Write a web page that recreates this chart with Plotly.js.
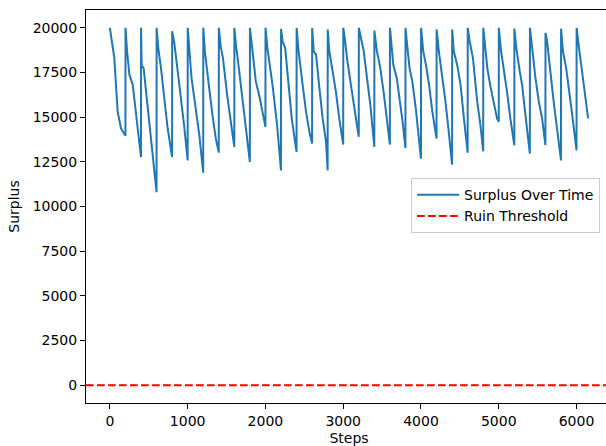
<!DOCTYPE html>
<html>
<head>
<meta charset="utf-8">
<script src="https://cdn.plot.ly/plotly-3.0.1.min.js"></script>
<style>
html,body{margin:0;padding:0;overflow:hidden;background:#fff;}
#chart{width:620px;height:446px;}
</style>
</head>
<body>
<div id="chart"></div>
<script>
// Surplus over time (sawtooth: resets every 200 steps)
const steps = [
  0,57,100,143,200,
  201,221,251,294,336,400,
  401,409,434,485,528,570,600,
  601,622,657,700,743,800,
  801,829,871,913,954,1000,
  1001,1050,1100,1150,1200,
  1201,1221,1255,1277,1319,1362,1400,
  1401,1425,1454,1508,1550,1600,
  1601,1622,1658,1702,1747,1800,
  1801,1834,1877,1919,1962,2000,
  2001,2025,2067,2096,2150,2200,
  2201,2221,2254,2296,2338,2400,
  2401,2422,2448,2478,2522,2565,2600,
  2601,2621,2651,2694,2736,2779,2800,
  2801,2821,2864,2906,2949,3000,
  3001,3021,3054,3096,3138,3200,
  3201,3230,3264,3306,3349,3400,
  3401,3434,3477,3519,3562,3600,
  3601,3622,3644,3689,3733,3764,3800,
  3801,3822,3853,3889,3933,4000,
  4001,4029,4063,4104,4146,4200,
  4201,4230,4272,4315,4357,4400,
  4401,4422,4465,4509,4552,4600,
  4601,4626,4668,4723,4766,4800,
  4801,4822,4853,4889,4933,4978,5000,
  5001,5030,5064,5106,5149,5200,
  5201,5226,5270,5300,5343,5400,
  5401,5430,5472,5515,5557,5600,
  5601,5621,5664,5706,5749,5800,
  5801,5825,5867,5908,5950,6000,
  6001,6021,6043,6064,6106,6149
];
const surplus = [
  20000,18310,15307,14367,13955,
  20000,18690,17370,16810,15117,12770,
  20000,17900,17750,15680,13990,12300,10800,
  20000,18870,17750,15870,14367,12770,
  19810,19150,17560,16240,14550,12580,
  20000,17180,15680,13990,11890,
  20000,18690,17180,16620,15117,13800,13015,
  20000,18960,18310,16240,14930,13330,
  20000,19000,17750,16060,14550,12490,
  20000,18690,16990,16240,15307,14460,
  20000,18870,17560,16620,14550,12020,
  19945,19250,18870,16810,14930,13050,
  20000,18870,17750,16810,15307,14180,13520,
  20000,18690,18500,16620,14930,13620,12020,
  19910,18690,17560,16430,14930,13465,
  20000,19400,18120,16810,15680,13900,
  20000,19400,18690,17180,15680,13330,
  19850,18690,17750,16430,14930,13465,
  20000,19060,17930,17180,15870,14740,13275,
  20000,19060,17750,16990,15495,12680,
  20000,18690,17940,16810,15307,13800,
  19910,18690,17370,15870,14180,12340,
  19910,18690,17940,16810,14930,13015,
  20000,19250,18310,15870,14500,13090,
  20000,19060,17750,16810,15870,14930,14740,
  20000,18690,17750,16430,14930,13430,
  19960,18870,17560,16810,15117,12960,
  20000,18690,17180,15870,14930,13430,
  19720,19250,17370,15870,14367,12580,
  19945,18690,17750,16430,14930,13145,
  20000,19250,18500,17560,16240,14930
];
const ruinLevel = 0;
const xRange = [-307, 6456];
const yRange = [-1000, 21000];
const xTicks = [0,1000,2000,3000,4000,5000,6000];
const yTicks = [0,2500,5000,7500,10000,12500,15000,17500,20000];

const font = {family: 'DejaVu Sans, sans-serif', size: 14, color: '#000000'};

const traces = [
  {
    x: steps, y: surplus, type: 'scatter', mode: 'lines',
    name: 'Surplus Over Time',
    line: {color: '#1f77b4', width: 2}
  },
  {
    x: xRange, y: [ruinLevel, ruinLevel], type: 'scatter', mode: 'lines',
    name: 'Ruin Threshold',
    line: {color: '#ff0000', width: 2, dash: '7.7px,3.3px'}
  }
];

const layout = {
  width: 620, height: 446,
  margin: {l: 86, r: 8, t: 10, b: 43},
  paper_bgcolor: '#ffffff', plot_bgcolor: '#ffffff',
  font: font,
  showlegend: true,
  legend: {
    x: 0.618, y: 0.572, xanchor: 'left', yanchor: 'top',
    bgcolor: 'rgba(255,255,255,0.8)', bordercolor: '#cccccc', borderwidth: 1,
    font: font, itemwidth: 42, tracegroupgap: 0
  },
  xaxis: {
    range: xRange, tickvals: xTicks, ticktext: xTicks.map(String),
    showgrid: false, zeroline: false,
    showline: true, linecolor: '#000', linewidth: 1, mirror: true,
    ticks: 'outside', ticklen: 5, tickcolor: '#000', tickwidth: 1,
    title: {text: 'Steps', font: font, standoff: 7}
  },
  yaxis: {
    range: yRange, tickvals: yTicks, ticktext: yTicks.map(String),
    showgrid: false, zeroline: false,
    showline: true, linecolor: '#000', linewidth: 1, mirror: true,
    ticks: 'outside', ticklen: 5, tickcolor: '#000', tickwidth: 1,
    title: {text: 'Surplus', font: font, standoff: 9}
  }
};

Plotly.newPlot('chart', traces, layout, {staticPlot: true, displayModeBar: false});
</script>
</body>
</html>
